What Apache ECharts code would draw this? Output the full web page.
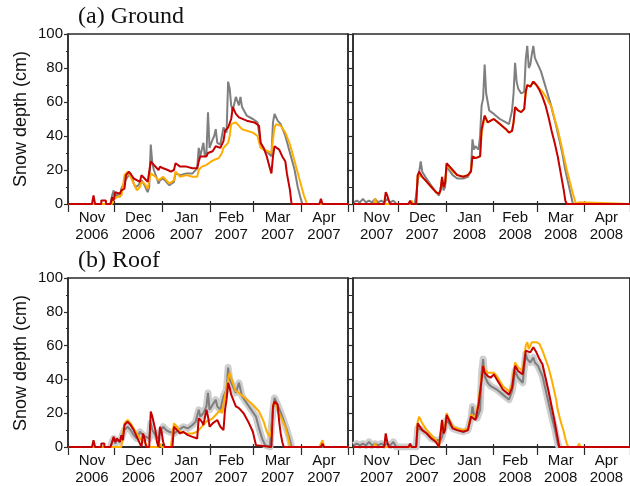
<!DOCTYPE html>
<html><head><meta charset="utf-8">
<script src="https://cdn.jsdelivr.net/npm/echarts@6/dist/echarts.min.js"></script>
<style>html,body{margin:0;padding:0;background:#fff}#c{width:630px;height:486px}</style>
</head><body><div id="c"></div>
<script>
// ---- axis definitions (day index from 1 Nov) ----
const nDays1 = 181;               // Nov 2006 - Apr 2007
const nDays2 = 182;               // Nov 2007 - Apr 2008 (leap Feb)
const monthStarts1 = [0,30,61,92,120,151];
const monthStarts2 = [0,30,61,92,121,152];
const labelIdx1 = [15,45,76,105,135,165];
const labelIdx2 = [15,45,76,106,136,166];
const monthNames = ['Nov','Dec','Jan','Feb','Mar','Apr'];
const yearLabels1 = ['2006','2006','2007','2007','2007','2007'];
const yearLabels2 = ['2007','2007','2008','2008','2008','2008'];
const yTicks = [0,20,40,60,80,100];

// ---- (a) Ground 2006-07 ----
const g1Gray = [[0,0],[27,0],[28,5],[29,8],[30,3],[31,6],[33,4],[34,9],[35,10],[36,13],[38,16],[40,18],[42,12],[43,10],[45,11],[47,14],[49,11],[51,7],[52,10],[53,35],[54,24],[55,20],[57,15],[58,12],[59,14],[61,15],[63,13],[65,11],[66,10],[68,13],[69,18],[72,17],[76,18],[80,18],[83,21],[84,33],[85,28],[87,36],[88,28],[89,30],[90,54],[91,33],[93,38],[94,40],[95,44],[96,36],[98,35],[100,45],[102,42],[103,72],[104,68],[105,58],[106,55],[108,63],[110,58],[111,63],[112,57],[115,52],[119,50],[122,48],[124,36],[126,32],[129,30],[131,28],[132,48],[133,53],[135,49],[137,47],[140,40],[143,30],[146,20],[148,10],[150,3],[151,0],[181,0]];
const g1Orange = [[0,0],[28,0],[29,3],[31,4],[34,5],[35,10],[36,17],[38,19],[40,16],[43,10],[44,8],[46,10],[47,13],[49,12],[51,9],[52,10],[53,18],[54,19],[56,16],[58,14],[59,15],[61,16],[63,14],[65,12],[66,11],[68,14],[69,19],[72,16],[76,17],[80,16],[83,16],[84,20],[86,22],[89,23],[92,25],[94,26],[97,27],[99,30],[100,33],[103,36],[104,40],[105,47],[108,48],[110,46],[112,44],[119,42],[122,40],[124,33],[126,32],[129,31],[131,30],[132,38],[133,45],[134,47],[137,46],[140,42],[143,35],[146,25],[149,15],[152,5],[154,0],[181,0]];
const g1Red = [[0,0],[15,0],[16,5],[17,0],[21,0],[21,2],[24,2],[24,0],[27,0],[28,4],[29,2],[30,7],[33,6],[34,8],[36,9],[37,17],[39,19],[42,15],[46,13],[47,17],[49,15],[51,13],[52,14],[53,25],[55,23],[58,20],[59,22],[61,21],[64,20],[66,19],[68,20],[69,24],[72,22],[76,22],[80,21],[83,21],[84,25],[85,28],[89,28],[90,30],[93,31],[95,34],[98,33],[100,37],[101,43],[103,45],[105,50],[106,57],[108,53],[110,51],[115,49],[120,48],[123,46],[124,36],[126,33],[128,28],[130,21],[131,18],[132,28],[133,34],[136,32],[138,28],[140,25],[141,18],[143,8],[144,0],[162,0],[163,3],[164,0],[181,0]];

// ---- (a) Ground 2007-08 ----
const g2Gray = [[0,1],[2,2],[4,1],[6,3],[8,1],[10,2],[12,1],[14,3],[16,1],[18,2],[20,1],[22,3],[24,1],[26,2],[28,0],[40,0],[41,5],[42,13],[43,14],[44,25],[45,19],[47,16],[50,12],[54,7],[56,5],[57,6],[58,13],[59,8],[60,10],[61,22],[62,21],[65,17],[68,15],[72,15],[75,16],[77,20],[78,38],[79,32],[80,34],[82,32],[83,40],[84,58],[85,62],[86,82],[87,65],[88,60],[89,55],[92,53],[96,50],[100,48],[102,47],[104,55],[105,65],[106,83],[107,72],[108,68],[110,65],[112,66],[113,85],[114,93],[115,80],[116,82],[117,88],[118,93],[119,86],[121,82],[123,78],[125,72],[127,66],[129,60],[131,53],[133,46],[135,38],[137,30],[139,20],[141,12],[143,4],[144,0],[182,0]];
const g2Orange = [[0,0],[13,0],[14,3],[15,0],[37,0],[38,2],[39,0],[41,0],[42,17],[43,18],[45,16],[48,13],[51,10],[54,7],[56,6],[57,8],[58,15],[59,10],[60,12],[61,23],[62,22],[65,19],[68,17],[72,16],[75,17],[77,19],[78,28],[80,27],[83,28],[84,42],[85,46],[86,52],[88,48],[90,49],[92,50],[96,47],[100,44],[102,42],[104,43],[105,48],[106,57],[108,55],[110,54],[112,56],[113,66],[114,70],[116,69],[118,72],[121,69],[124,66],[127,62],[128,60],[130,57],[132,50],[134,44],[136,36],[138,28],[140,20],[142,13],[144,6],[146,0],[147,0],[148,1],[149,0],[182,0]];
const g2Red = [[0,0],[20,0],[21,7],[22,5],[23,2],[24,0],[36,0],[37,2],[38,0],[41,0],[42,17],[43,19],[45,16],[48,13],[51,10],[54,7],[56,6],[57,8],[58,16],[59,10],[60,12],[61,24],[62,23],[65,20],[68,17],[72,16],[75,17],[77,19],[78,28],[80,27],[83,28],[84,44],[85,48],[86,52],[88,48],[90,49],[92,50],[96,47],[100,44],[102,42],[104,43],[105,48],[106,57],[108,55],[110,54],[112,56],[113,66],[114,70],[116,69],[118,72],[120,70],[122,67],[124,63],[126,58],[128,51],[130,43],[132,36],[134,28],[136,18],[138,8],[139,2],[140,0],[147,0],[148,1],[149,0],[182,0]];

// ---- (b) Roof 2006-07 ----
const r1Gray = [[0,0],[27,0],[28,3],[29,5],[30,2],[31,4],[33,3],[34,5],[35,8],[36,10],[38,12],[40,10],[42,7],[44,5],[46,9],[48,7],[50,6],[52,5],[53,14],[54,10],[56,7],[58,5],[59,9],[61,12],[63,10],[65,9],[68,8],[71,10],[74,12],[77,11],[80,13],[82,15],[84,22],[85,18],[87,20],[89,24],[90,32],[91,22],[93,25],[95,28],[96,24],[98,22],[100,30],[102,34],[103,47],[104,40],[106,36],[108,32],[110,38],[112,30],[115,26],[118,22],[121,18],[123,11],[125,5],[127,1],[128,0],[130,0],[131,12],[132,22],[133,29],[135,25],[138,18],[141,10],[143,4],[144,0],[181,0]];
const r1Orange = [[0,0],[34,0],[35,8],[36,14],[38,16],[40,14],[42,11],[44,8],[47,4],[49,3],[51,0],[58,0],[59,2],[60,0],[66,0],[67,8],[68,14],[70,12],[72,9],[76,8],[80,8],[83,9],[85,11],[89,15],[93,17],[96,20],[98,22],[99,20],[100,25],[101,30],[103,40],[104,44],[106,38],[108,33],[110,32],[114,29],[119,25],[123,21],[126,15],[128,9],[130,6],[131,10],[132,25],[133,27],[135,22],[137,18],[140,12],[142,5],[143,0],[162,0],[163,2],[164,4],[165,0],[181,0]];
const r1Red = [[0,0],[15,0],[16,4],[17,0],[21,0],[21,2],[23,2],[23,0],[27,0],[28,3],[29,6],[30,3],[31,5],[33,3],[34,7],[35,4],[36,13],[38,15],[40,13],[42,10],[44,6],[46,2],[47,0],[48,8],[49,5],[50,0],[52,0],[53,21],[54,18],[56,10],[57,3],[58,0],[59,12],[60,9],[61,3],[62,0],[67,0],[68,12],[70,10],[72,8],[74,9],[77,7],[80,6],[83,5],[84,17],[86,15],[87,13],[89,22],[90,18],[91,12],[93,14],[94,13],[96,16],[98,12],[100,10],[101,22],[102,28],[103,38],[104,35],[105,31],[106,32],[108,24],[110,23],[113,20],[116,15],[119,9],[121,1],[122,0],[131,0],[132,24],[133,27],[135,25],[136,15],[137,8],[138,3],[139,0],[150,0],[151,1],[152,0],[163,0],[164,2],[165,0],[181,0]];

// ---- (b) Roof 2007-08 ----
const r2Gray = [[0,1],[2,2],[4,1],[6,2],[8,1],[10,3],[12,1],[14,2],[16,1],[18,2],[20,1],[22,2],[24,1],[26,3],[28,0],[41,0],[42,11],[43,12],[45,10],[48,8],[51,5],[54,4],[57,4],[58,6],[59,5],[61,16],[62,15],[65,11],[68,10],[72,9],[75,10],[77,17],[78,24],[79,19],[81,17],[83,22],[84,44],[85,52],[86,42],[88,38],[90,36],[94,34],[98,31],[102,28],[104,33],[105,38],[106,45],[108,41],[111,38],[113,55],[114,52],[116,50],[118,53],[119,50],[121,48],[124,42],[127,30],[130,18],[132,11],[134,2],[135,0],[182,0]];
const r2Orange = [[0,0],[13,0],[14,2],[15,0],[41,0],[42,15],[43,18],[45,14],[48,10],[51,7],[54,4],[56,0],[57,0],[58,15],[59,9],[60,11],[61,20],[62,18],[65,12],[68,11],[72,10],[75,11],[77,19],[78,20],[80,18],[82,27],[84,42],[85,48],[86,46],[88,44],[90,44],[92,44],[94,42],[98,36],[102,33],[104,37],[105,44],[106,50],[108,47],[111,45],[113,60],[114,62],[115,58],[116,59],[117,62],[118,63],[120,62],[122,61],[124,57],[126,52],[128,47],[130,40],[131,36],[133,28],[134,22],[136,15],[138,9],[139,5],[140,2],[141,0],[147,0],[148,2],[149,0],[182,0]];
const r2Red = [[0,0],[20,0],[21,8],[22,3],[23,0],[36,0],[37,2],[38,0],[41,0],[42,14],[43,13],[45,10],[48,8],[51,5],[54,3],[56,0],[57,0],[58,16],[59,8],[60,10],[61,19],[62,17],[65,11],[68,10],[72,9],[75,10],[77,18],[78,19],[80,16],[82,25],[84,40],[85,48],[86,44],[88,42],[90,41],[92,43],[94,40],[98,34],[102,31],[104,35],[105,42],[106,48],[108,45],[111,43],[113,57],[114,58],[116,56],[118,59],[120,56],[122,52],[124,49],[126,41],[128,33],[130,24],[132,15],[134,5],[135,0],[182,0]];

const C_GRAY = '#7f7f7f', C_BAND = '#cfcfcf', C_ORANGE = '#ffad00', C_RED = '#c40000', C_AXIS = '#2a2a2a';
const FONT = 'Liberation Sans, Arial, Helvetica, sans-serif';

const panels = [
  {left:68,  top:34,  width:280, n:nDays1, starts:monthStarts1, lab:labelIdx1, years:yearLabels1, yl:true,  gray:g1Gray, orange:g1Orange, red:g1Red, band:false},
  {left:353, top:34,  width:282, n:nDays2, starts:monthStarts2, lab:labelIdx2, years:yearLabels2, yl:false, gray:g2Gray, orange:g2Orange, red:g2Red, band:false},
  {left:68,  top:278, width:280, n:nDays1, starts:monthStarts1, lab:labelIdx1, years:yearLabels1, yl:true,  gray:r1Gray, orange:r1Orange, red:r1Red, band:true},
  {left:353, top:278, width:282, n:nDays2, starts:monthStarts2, lab:labelIdx2, years:yearLabels2, yl:false, gray:r2Gray, orange:r2Orange, red:r2Red, band:true}
];

// band only where there is snow (break on long zero stretches)
function bandOf(arr) {
  return arr.map(([d, v], i, a) => {
    const prevZero = i === 0 || a[i-1][1] === 0;
    const nextZero = i === a.length - 1 || a[i+1][1] === 0;
    return (v === 0 && prevZero && nextZero) ? [d, null] : [d, v];
  });
}

const grid = [], xAxis = [], yAxis = [], series = [];
panels.forEach((p, gi) => {
  grid.push({left:p.left, top:p.top, width:p.width, height:170, show:true, borderColor:C_AXIS, borderWidth:1.5, backgroundColor:'transparent'});
  const days = Array.from({length:p.n}, (_, i) => String(i));
  const labelMap = {};
  p.lab.forEach((d, k) => { labelMap[d] = monthNames[k] + '\n' + p.years[k]; });
  const xb = xAxis.length;
  xAxis.push({
    type:'category', gridIndex:gi, data:days, boundaryGap:true, position:'bottom',
    axisLine:{show:true, lineStyle:{color:C_AXIS, width:1.5}},
    axisTick:{show:true, interval:(i)=>p.starts.indexOf(i) >= 0, length:8, lineStyle:{color:C_AXIS, width:1.2}},
    axisLabel:{show:true, interval:(i)=>labelMap[i] !== undefined, formatter:(v)=>labelMap[+v] || '',
      margin:5, fontSize:15, lineHeight:17, color:'#111', fontFamily:FONT},
    splitLine:{show:false}
  });
  xAxis.push({
    type:'category', gridIndex:gi, data:days, boundaryGap:true, position:'top',
    axisLine:{show:true, lineStyle:{color:C_AXIS, width:1.5}},
    axisTick:{show:true, interval:(i)=>p.starts.indexOf(i) >= 0, length:3, lineStyle:{color:C_AXIS, width:1.2}},
    axisLabel:{show:false}, splitLine:{show:false}
  });
  const yl = yAxis.length;
  yAxis.push({
    type:'value', gridIndex:gi, min:yTicks[0], max:yTicks[yTicks.length-1], interval:20, position:'left',
    axisLine:{show:true, lineStyle:{color:C_AXIS, width:1.5}},
    axisTick:{show:true, length:p.yl ? 4 : 6, lineStyle:{color:C_AXIS, width:1.2}},
    minorTick:{show:true, splitNumber:2, length:p.yl ? 2 : 4, lineStyle:{color:C_AXIS, width:1}},
    axisLabel:{show:p.yl, margin:5, fontSize:15, color:'#111', fontFamily:FONT},
    splitLine:{show:false}
  });
  yAxis.push({
    type:'value', gridIndex:gi, min:0, max:100, position:'right',
    axisLine:{show:true, lineStyle:{color:C_AXIS, width:1.5}},
    axisTick:{show:false}, axisLabel:{show:false}, splitLine:{show:false}
  });
  const base = {type:'line', xAxisIndex:xb, yAxisIndex:yl, symbol:'none', silent:true, animation:false};
  if (p.band) series.push(Object.assign({}, base, {data:bandOf(p.gray), connectNulls:false, lineStyle:{color:C_BAND, width:7, join:'round'}, z:1}));
  series.push(Object.assign({}, base, {data:p.gray, lineStyle:{color:C_GRAY, width:2}, z:2}));
  series.push(Object.assign({}, base, {data:p.orange, lineStyle:{color:C_ORANGE, width:2}, z:3}));
  series.push(Object.assign({}, base, {data:p.red, lineStyle:{color:C_RED, width:2}, z:4}));
});

const chart = echarts.init(document.getElementById('c'), null, {renderer:'canvas'});
chart.setOption({
  backgroundColor:'#fff', animation:false,
  grid, xAxis, yAxis, series,
  graphic:[
    {type:'text', left:78, top:5, style:{text:'(a) Ground', font:'24px "Liberation Serif", "Times New Roman", serif', fill:'#111'}},
    {type:'text', left:78, top:249, style:{text:'(b) Roof', font:'24px "Liberation Serif", "Times New Roman", serif', fill:'#111'}},
    {type:'text', x:21, y:119, rotation:Math.PI/2, style:{text:'Snow depth (cm)', font:'18px "Liberation Sans", Arial, sans-serif', fill:'#111', align:'center', verticalAlign:'middle'}},
    {type:'text', x:21, y:363, rotation:Math.PI/2, style:{text:'Snow depth (cm)', font:'18px "Liberation Sans", Arial, sans-serif', fill:'#111', align:'center', verticalAlign:'middle'}}
  ]
});
</script></body></html>
